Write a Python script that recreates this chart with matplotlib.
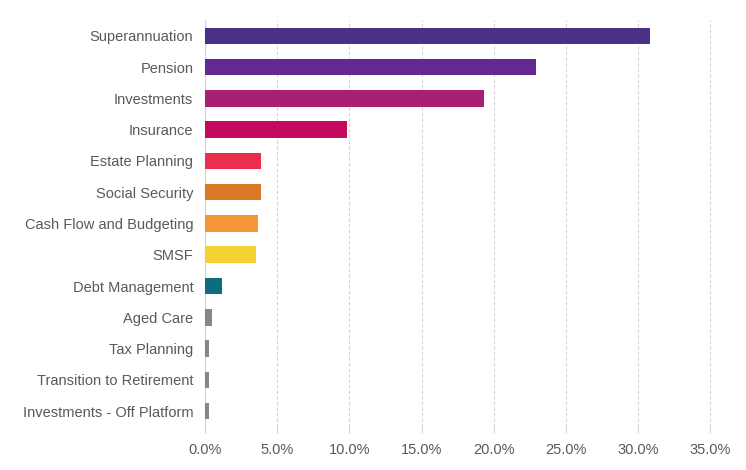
import matplotlib
matplotlib.use("Agg")
import matplotlib.pyplot as plt
from matplotlib.ticker import FuncFormatter

categories = ["Superannuation", "Pension", "Investments", "Insurance", "Estate Planning",
              "Social Security", "Cash Flow and Budgeting", "SMSF", "Debt Management",
              "Aged Care", "Tax Planning", "Transition to Retirement", "Investments - Off Platform"]
values = [30.8, 22.9, 19.35, 9.8, 3.9, 3.9, 3.65, 3.5, 1.15, 0.5, 0.25, 0.25, 0.25]
colors = ["#4a3089", "#65288f", "#a91f74", "#c4095e", "#eb2d4f", "#d97a22", "#f59637",
          "#f4d232", "#0b6e7d", "#87878b", "#87878b", "#87878b", "#87878b"]
x_ticks = [0, 5, 10, 15, 20, 25, 30, 35]

plt.rcParams['font.family'] = ['Liberation Sans', 'DejaVu Sans']
fig = plt.figure(figsize=(7.46, 4.70), dpi=100)
ax = fig.add_axes([0.275, 0.092, 0.677, 0.865])

ypos = list(range(len(categories)))
ax.barh(ypos, values, height=0.53, color=colors, zorder=3)
ax.set_yticks(ypos)
ax.set_yticklabels(categories)
ax.set_ylim(len(categories) - 0.5, -0.5)
ax.set_xlim(0, 35)
ax.set_xticks(x_ticks)
ax.xaxis.set_major_formatter(FuncFormatter(lambda v, p: f"{v:.1f}%"))
ax.grid(axis='x', color='#d4d4d4', linestyle=(0, (3, 2)), linewidth=0.8, zorder=0)
for gl in ax.get_xgridlines():
    gl.set_clip_on(False)
for s in ['top', 'right', 'bottom']:
    ax.spines[s].set_visible(False)
ax.spines['left'].set_color('#d4d4d4')
ax.spines['left'].set_linewidth(0.8)
ax.tick_params(axis='y', length=0, pad=8.5, labelsize=10.5, labelcolor='#595959')
ax.tick_params(axis='x', length=4, width=0.8, color='#d4d4d4', direction='out', pad=8,
               labelsize=10.5, labelcolor='#595959')
fig.savefig("out.png", dpi=100)
